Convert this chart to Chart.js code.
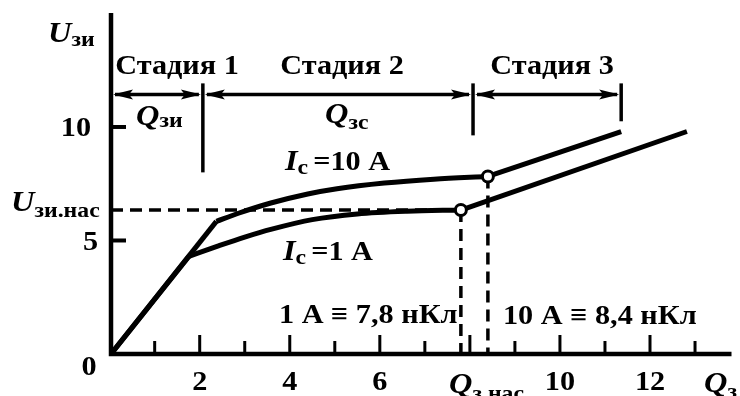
<!DOCTYPE html>
<html>
<head>
<meta charset="utf-8">
<script src="https://cdn.jsdelivr.net/npm/chart.js@4.4.1/dist/chart.umd.min.js"></script>
<style>
  html, body { margin: 0; padding: 0; background: #fff; }
  canvas { display: block; }
</style>
</head>
<body>
<canvas id="gate" width="740" height="396"></canvas>
<script>
// Gate charge curves: Qз (nC) vs Uзи (V)
const qLow  = [0.03, 1.76, 2.4, 3.0, 3.6, 4.5, 5.5, 6.6, 7.8, 12.82];
const uLow  = [0, 4.3, 4.75, 5.15, 5.5, 5.92, 6.17, 6.29, 6.34, 9.8];
const qHigh = [0.03, 2.37, 2.86, 3.58, 4.4, 5.05, 6.1, 7.2, 8.4, 11.36];
const uHigh = [0, 5.84, 6.2, 6.65, 7.05, 7.28, 7.53, 7.7, 7.82, 9.8];

// saturation points (1 A, 10 A)
const qSat = [7.8, 8.4];
const uSat = [6.34, 7.82];

// stage boundaries along Qз
const stageEdges = [0.03, 2.07, 8.07, 11.36];
const stageNames = ['Стадия 1', 'Стадия 2', 'Стадия 3'];

// axis ticks
const xTicks = [1, 2, 3, 4, 5, 6, 7, 8, 9, 10, 11, 12, 13];
const xTickLabels = ['2', '4', '6', '10', '12'];
const xTickLabelAt = [2, 4, 6, 10, 12];
const yTicks = [5, 10];
const yTickLabels = ['0', '5', '10'];

const SERIF = "'Liberation Serif', 'Times New Roman', serif";
const F_MAIN = `bold 28px ${SERIF}`;
const F_ITAL = `italic bold 30px ${SERIF}`;
const F_SUB = `bold 22px ${SERIF}`;
const SX = 1.08; // the lettering is set a little wide

const pts = (qs, us, from, to) => qs.slice(from, to).map((q, i) => ({ x: q, y: us[from + i] }));

const solid = { borderColor: '#000', borderWidth: 5, pointRadius: 0, fill: false, borderJoinStyle: 'round' };
const dashed = { borderColor: '#000', borderWidth: 3.5, pointRadius: 0, fill: false, borderDash: [12, 7] };

const datasets = [
  // open circles at the saturation points
  { data: qSat.map((q, i) => ({ x: q, y: uSat[i] })), showLine: false, pointRadius: 5.5,
    pointBorderWidth: 3, pointBackgroundColor: '#fff', pointBorderColor: '#000' },
  // Ic = 10 A
  { ...solid, data: pts(qHigh, uHigh, 0, 2), tension: 0 },
  { ...solid, data: pts(qHigh, uHigh, 1, 9), cubicInterpolationMode: 'monotone' },
  { ...solid, data: pts(qHigh, uHigh, 8, 10), tension: 0 },
  // Ic = 1 A
  { ...solid, data: pts(qLow, uLow, 0, 2), tension: 0 },
  { ...solid, data: pts(qLow, uLow, 1, 9), cubicInterpolationMode: 'monotone' },
  { ...solid, data: pts(qLow, uLow, 8, 10), tension: 0 },
  // dashed guides to the axes
  { ...dashed, data: [{ x: qLow[0], y: uSat[0] }, { x: qSat[0], y: uSat[0] }] },
  { ...dashed, data: [{ x: qSat[0], y: uSat[0] }, { x: qSat[0], y: 0 }] },
  { ...dashed, data: [{ x: qSat[1], y: uSat[1] }, { x: qSat[1], y: 0 }] },
];

// text pieces: [text, font, dy, dx]
function richWidth(ctx, parts) {
  let w = 0;
  for (const [t, font, , dx = 0] of parts) { ctx.font = font; w += ctx.measureText(t).width * SX + dx; }
  return w;
}
function rich(ctx, x, y, parts, align) {
  const w = richWidth(ctx, parts);
  let cx = align === 'center' ? x - w / 2 : align === 'right' ? x - w : x;
  for (const [t, font, dy = 0, dx = 0] of parts) {
    ctx.font = font;
    cx += dx;
    ctx.save();
    ctx.translate(cx, y + dy);
    ctx.scale(SX, 1);
    ctx.fillText(t, 0, 0);
    ctx.restore();
    cx += ctx.measureText(t).width * SX;
  }
}

function arrowHead(ctx, x, y, dir) {
  ctx.beginPath();
  ctx.moveTo(x, y);
  ctx.lineTo(x + dir * 20, y - 5);
  ctx.lineTo(x + dir * 16, y);
  ctx.lineTo(x + dir * 20, y + 5);
  ctx.closePath();
  ctx.fill();
}

const frame = {
  id: 'frame',
  beforeDatasetsDraw(chart) {
    const { ctx, chartArea: a, scales: { x, y } } = chart;
    ctx.save();
    ctx.strokeStyle = '#000';
    ctx.fillStyle = '#000';
    ctx.lineCap = 'butt';

    // axes
    ctx.lineWidth = 4.5;
    ctx.beginPath();
    ctx.moveTo(a.left, a.top);
    ctx.lineTo(a.left, a.bottom);
    ctx.lineTo(a.right, a.bottom);
    ctx.stroke();

    // x ticks point up into the plot
    ctx.lineWidth = 3;
    xTicks.forEach(v => {
      const px = x.getPixelForValue(v);
      ctx.beginPath();
      ctx.moveTo(px, a.bottom);
      ctx.lineTo(px, a.bottom - (v % 2 === 0 ? 19 : 13));
      ctx.stroke();
    });
    ctx.lineWidth = 4;
    yTicks.forEach(v => {
      const py = y.getPixelForValue(v);
      ctx.beginPath();
      ctx.moveTo(a.left, py);
      ctx.lineTo(a.left + 15, py);
      ctx.stroke();
    });

    // stage dimension lines
    const yDim = y.getPixelForValue(11.43);
    const barTop = y.getPixelForValue(11.92);
    const barBottoms = [null, 8.0, 9.63, 10.25];
    ctx.lineWidth = 3.5;
    stageEdges.forEach((q, i) => {
      if (barBottoms[i] === null) return;
      const px = x.getPixelForValue(q);
      ctx.beginPath();
      ctx.moveTo(px, barTop);
      ctx.lineTo(px, y.getPixelForValue(barBottoms[i]));
      ctx.stroke();
    });
    for (let i = 0; i < stageNames.length; i++) {
      const x0 = x.getPixelForValue(stageEdges[i]);
      const x1 = x.getPixelForValue(stageEdges[i + 1]);
      ctx.lineWidth = 3.5;
      ctx.beginPath();
      ctx.moveTo(x0 + 4, yDim);
      ctx.lineTo(x1 - 4, yDim);
      ctx.stroke();
      arrowHead(ctx, x0 + 2, yDim, 1);
      arrowHead(ctx, x1 - 2, yDim, -1);
    }
    ctx.restore();
  },
  afterDraw(chart) {
    const { ctx, scales: { x, y } } = chart;
    ctx.save();
    ctx.fillStyle = '#000';
    ctx.textBaseline = 'alphabetic';

    // stage titles
    const titleX = [177, 342, 552];
    stageNames.forEach((s, i) => rich(ctx, titleX[i], 74, [[s, F_MAIN]], 'center'));

    // tick labels
    xTickLabels.forEach((t, i) => rich(ctx, x.getPixelForValue(xTickLabelAt[i]), 390, [[t, F_MAIN]], 'center'));
    rich(ctx, 89, 375, [[yTickLabels[0], F_MAIN]], 'center');
    rich(ctx, 98, y.getPixelForValue(5) + 10, [[yTickLabels[1], F_MAIN]], 'right');
    rich(ctx, 91, y.getPixelForValue(10) + 9, [[yTickLabels[2], F_MAIN]], 'right');

    // axis names
    rich(ctx, 48, 42, [['U', F_ITAL], ['зи', F_SUB, 4]]);
    rich(ctx, 704, 392, [['Q', F_ITAL], ['з', F_SUB, 6]]);
    rich(ctx, 449, 393, [['Q', F_ITAL], ['з.нас', F_SUB, 7]]);
    rich(ctx, 11, 211, [['U', F_ITAL], ['зи.нас', F_SUB, 6]]);

    // charge names under the dimension lines
    rich(ctx, 136, 125, [['Q', F_ITAL], ['зи', F_SUB, 2]]);
    rich(ctx, 325, 123, [['Q', F_ITAL], ['зс', F_SUB, 6]]);

    // curve labels
    rich(ctx, 285, 170, [['I', F_ITAL], ['c', F_SUB, 4], ['=10 A', F_MAIN, 0, 5]]);
    rich(ctx, 283, 260, [['I', F_ITAL], ['c', F_SUB, 4], ['=1 A', F_MAIN, 0, 5]]);

    // saturation charge values
    rich(ctx, 279, 323, [['1 A ≡ 7,8 нКл', F_MAIN]]);
    rich(ctx, 503, 324, [['10 A ≡ 8,4 нКл', F_MAIN]]);
    ctx.restore();
  }
};

new Chart(document.getElementById('gate'), {
  type: 'scatter',
  data: { datasets: datasets.map(d => ({ showLine: true, ...d })) },
  options: {
    responsive: false,
    animation: false,
    devicePixelRatio: 1,
    layout: { padding: { left: 111, right: 0, top: 13, bottom: 42 } },
    plugins: { legend: { display: false }, tooltip: { enabled: false } },
    scales: {
      x: { type: 'linear', display: false, min: 0.03, max: 13.81 },
      y: { type: 'linear', display: false, min: 0, max: 15.02 }
    }
  },
  plugins: [frame]
});
</script>
</body>
</html>
